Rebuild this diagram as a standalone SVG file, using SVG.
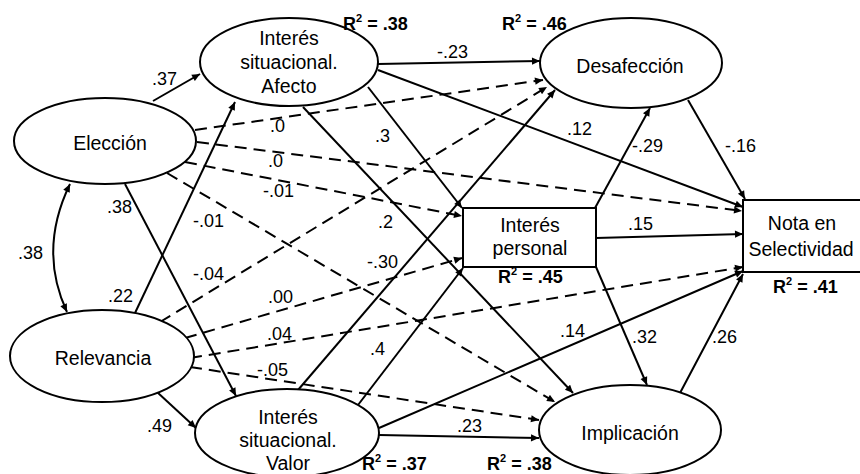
<svg xmlns="http://www.w3.org/2000/svg" width="860" height="474" viewBox="0 0 860 474">
<defs>
<marker id="a" viewBox="0 0 10 10" refX="10" refY="5" markerWidth="9" markerHeight="8" markerUnits="userSpaceOnUse" orient="auto-start-reverse"><path d="M0,0.5 L10,5 L0,9.5 z" fill="#000"/></marker>
</defs>
<style>
.n{fill:#fff;stroke:#000;stroke-width:2}
.t{font-family:"Liberation Sans",Arial,sans-serif;font-size:19.5px;fill:#000;text-anchor:middle}
.l{font-family:"Liberation Sans",Arial,sans-serif;font-size:18px;fill:#000}
.r{font-family:"Liberation Sans",Arial,sans-serif;font-size:18px;font-weight:bold;fill:#000}
.s{font-size:11px}
.e{fill:none;stroke:#000;stroke-width:2;marker-end:url(#a)}
.d{stroke-dasharray:12 7}
</style>
<rect width="860" height="474" fill="#fff"/>
<g id="connectors">
<path class="e" d="M153,101 L200,74"/>
<path class="e" d="M70,184 Q38,250 67,312" style="marker-start:url(#a)"/>
<path class="e" d="M125,184 L236,396"/>
<path class="e" d="M135,313 L235,102"/>
<path class="e" d="M157,392 L196,428"/>
<path class="e" d="M378,64 L540,61"/>
<path class="e" d="M378,70 L743,207"/>
<path class="e" d="M368,87 L462,208"/>
<path class="e" d="M303,107 L573,393"/>
<path class="e" d="M298,390 L555,90"/>
<path class="e" d="M358,405 L463,268"/>
<path class="e" d="M379,428 L743,271"/>
<path class="e" d="M379,435 L539,438"/>
<path class="e" d="M596,238 L743,234"/>
<path class="e" d="M595,208 L650,108"/>
<path class="e" d="M596,267 L647,385"/>
<path class="e" d="M688,100 L745,199"/>
<path class="e" d="M680,393 L743,274"/>
<path class="e d" d="M195,130 L543,80"/>
<path class="e d" d="M197,142 L742,211"/>
<path class="e d" d="M185,162 L462,216"/>
<path class="e d" d="M167,173 L555,402"/>
<path class="e d" d="M160,322 L547,87"/>
<path class="e d" d="M185,338 L462,258"/>
<path class="e d" d="M190,358 L743,267"/>
<path class="e d" d="M190,367 L539,420"/>
</g>
<g id="edge-labels">
<text class="l" x="152" y="85">.37</text>
<text class="l" x="18" y="259">.38</text>
<text class="l" x="107" y="213">.38</text>
<text class="l" x="108" y="302">.22</text>
<text class="l" x="147" y="432">.49</text>
<text class="l" x="437" y="58">-.23</text>
<text class="l" x="567" y="135">.12</text>
<text class="l" x="375" y="142">.3</text>
<text class="l" x="378" y="228">.2</text>
<text class="l" x="270" y="132">.0</text>
<text class="l" x="268" y="167">.0</text>
<text class="l" x="263" y="197">-.01</text>
<text class="l" x="193" y="227">-.01</text>
<text class="l" x="193" y="280">-.04</text>
<text class="l" x="268" y="303">.00</text>
<text class="l" x="267" y="340">.04</text>
<text class="l" x="257" y="376">-.05</text>
<text class="l" x="367" y="268">-.30</text>
<text class="l" x="370" y="355">.4</text>
<text class="l" x="560" y="337">.14</text>
<text class="l" x="457" y="432">.23</text>
<text class="l" x="628" y="230">.15</text>
<text class="l" x="632" y="343">.32</text>
<text class="l" x="712" y="343">.26</text>
<text class="l" x="632" y="152">-.29</text>
<text class="l" x="725" y="152">-.16</text>
</g>
<g id="eleccion">
<ellipse class="n" cx="105" cy="141" rx="91" ry="43"/>
<text class="t" x="110" y="150">Elección</text>
</g>
<g id="relevancia">
<ellipse class="n" cx="102" cy="356" rx="92" ry="46"/>
<text class="t" x="103" y="365">Relevancia</text>
</g>
<g id="afecto">
<ellipse class="n" cx="289" cy="62" rx="89" ry="44"/>
<text class="t" x="289" y="45">Interés</text>
<text class="t" x="289" y="69">situacional.</text>
<text class="t" x="289" y="93">Afecto</text>
<text class="r" x="343" y="30">R<tspan class="s" dy="-8">2</tspan><tspan dy="8"> = .38</tspan></text>
</g>
<g id="valor">
<ellipse class="n" cx="287" cy="433" rx="92" ry="44"/>
<text class="t" x="288" y="424">Interés</text>
<text class="t" x="288" y="447">situacional.</text>
<text class="t" x="288" y="470">Valor</text>
<text class="r" x="362" y="470">R<tspan class="s" dy="-8">2</tspan><tspan dy="8"> = .37</tspan></text>
</g>
<g id="desafeccion">
<ellipse class="n" cx="631" cy="63" rx="91" ry="45"/>
<text class="t" x="630" y="73">Desafección</text>
<text class="r" x="502" y="30">R<tspan class="s" dy="-8">2</tspan><tspan dy="8"> = .46</tspan></text>
</g>
<g id="implicacion">
<ellipse class="n" cx="630" cy="430" rx="91" ry="45"/>
<text class="t" x="630" y="440">Implicación</text>
<text class="r" x="487" y="470">R<tspan class="s" dy="-8">2</tspan><tspan dy="8"> = .38</tspan></text>
</g>
<g id="interes-personal">
<rect class="n" x="463" y="208" width="133" height="59"/>
<text class="t" x="530" y="232">Interés</text>
<text class="t" x="530" y="255">personal</text>
<text class="r" x="498" y="283">R<tspan class="s" dy="-8">2</tspan><tspan dy="8"> = .45</tspan></text>
</g>
<g id="nota">
<rect class="n" x="743" y="200" width="140" height="72"/>
<text class="t" x="802" y="230">Nota en</text>
<text class="t" x="801" y="256">Selectividad</text>
<text class="r" x="773" y="293">R<tspan class="s" dy="-8">2</tspan><tspan dy="8"> = .41</tspan></text>
</g>
</svg>
